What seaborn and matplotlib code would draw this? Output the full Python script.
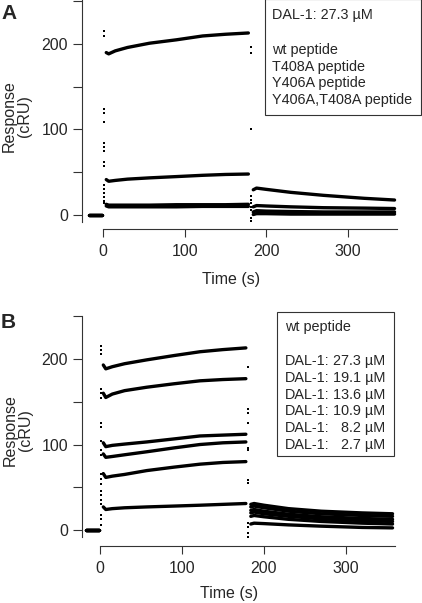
import pandas as pd
import seaborn as sns
import matplotlib.pyplot as plt
from matplotlib.patches import Rectangle

# time knots (s)
t_base = [-17, -1]
t_assoc = [4, 7, 15, 30, 57, 90, 122, 150, 178]
t_dissoc = [184, 188, 200, 230, 270, 320, 357]
t_on = 1.5
t_off = 181

# panel A: DAL-1 27.3 uM with peptide variants
peptides = ["wt peptide", "T408A peptide", "Y406A peptide", "Y406A,T408A peptide"]
a_base = [[0, 0], [0, 0], [0, 0], [0, 0]]
a_assoc = [
    [190, 188.5, 192, 196, 201, 205, 209.5, 211.5, 213],
    [41, 39, 40, 41.5, 43, 44.5, 46, 47, 47.5],
    [12, 11, 11, 11, 11, 11.5, 11.5, 11.5, 12],
    [10, 9, 9, 9, 9, 9, 9.5, 9.5, 9.5],
]
a_dissoc = [
    [29, 31, 29.5, 26, 22.5, 19, 17],
    [9, 10.5, 10, 9, 8, 7.5, 7],
    [3, 4.5, 4, 3.5, 3, 3, 3],
    [0, 1, 1, 0.5, 0.5, 0.5, 0.5],
]
a_spike_on = [[215, 209], [124, 119, 108, 84, 79, 74, 62, 57], [35, 30, 25, 20], [16, 13]]
a_spike_off = [[196, 190], [100], [22, 17, 14, 9], [5, -4, -8]]

# panel B: wt peptide, DAL-1 concentration series
concs = ["27.3", "19.1", "13.6", "10.9", "8.2", "2.7"]
b_base = [[0, 0]] * 6
b_assoc = [
    [193, 188.5, 191, 194.5, 199, 204, 208.5, 211, 213],
    [160, 155, 159, 163, 167, 171, 174.5, 176, 177],
    [102, 97.5, 99, 100.5, 103, 106.5, 110, 111, 112],
    [89, 85, 86, 88, 91.5, 96, 100, 102, 103],
    [66, 61.5, 63, 65, 69.5, 73.5, 77, 79, 80],
    [27, 24, 25, 26, 27, 28, 29, 30, 31],
]
b_dissoc = [
    [30, 31, 29, 25, 22, 20, 19],
    [27, 28, 26, 22, 19, 17, 16],
    [23, 24, 22, 18.5, 15.5, 13.5, 12.5],
    [20, 21, 19, 16, 13, 11, 10],
    [16, 17, 15.5, 12.5, 10, 8, 7],
    [7, 8, 7.5, 6, 4.5, 3, 2.5],
]
b_spike_on = [[215, 211, 206], [165, 160, 154], [125, 120, 104], [93, 88],
              [66, 60, 54, 46, 41], [35, 30, 18, 13, 6]]
b_spike_off = [[191], [142, 137], [125], [96, 93], [58, 55], [8, 3, -3, -8]]


def build(names, base, assoc, dissoc, spk_on, spk_off):
    rows, dots = [], []
    for i, name in enumerate(names):
        for part, tt, vv in [("base", t_base, base[i]), ("assoc", t_assoc, assoc[i]),
                             ("dissoc", t_dissoc, dissoc[i])]:
            for t, v in zip(tt, vv):
                rows.append({"trace": f"{name}-{part}", "time": t, "response": v})
        for v in spk_on[i]:
            dots.append({"time": t_on, "response": v})
        for v in spk_off[i]:
            dots.append({"time": t_off, "response": v})
    return pd.DataFrame(rows), pd.DataFrame(dots)


df_a, dots_a = build(peptides, a_base, a_assoc, a_dissoc, a_spike_on, a_spike_off)
df_b, dots_b = build(concs, b_base, b_assoc, b_dissoc, b_spike_on, b_spike_off)

sns.set_style("ticks")
plt.rcParams['font.family'] = ['Liberation Sans', 'DejaVu Sans']

W, H = 422, 603
fig = plt.figure(figsize=(W / 100, H / 100), dpi=100)
spine_c = "#333333"
box_fs = 10.4


def px_axes(left, right, top, bottom):
    return fig.add_axes([left / W, 1 - bottom / H, (right - left) / W, (bottom - top) / H])


def style(ax, xlim, ylim, ybounds, xlab_pos, ylab_pos):
    ax.set_xlim(*xlim)
    ax.set_ylim(*ylim)
    for s in ["top", "right"]:
        ax.spines[s].set_visible(False)
    ax.spines["left"].set_bounds(*ybounds)
    ax.spines["bottom"].set_bounds(0, 360)
    for s in ["left", "bottom"]:
        ax.spines[s].set_color(spine_c)
        ax.spines[s].set_linewidth(0.8)
    ax.set_xticks([0, 100, 200, 300])
    ax.set_yticks([0, 100, 200])
    ax.set_yticks([50, 150, 250], minor=True)
    ax.tick_params(axis="y", which="both", length=6.5, width=0.8, color=spine_c,
                   labelsize=11.5, pad=3.5)
    ax.tick_params(axis="x", which="both", length=6, width=0.8, color=spine_c,
                   labelsize=11.5, pad=4.5)
    ax.set_xlabel("Time (s)", fontsize=11.5)
    ax.set_ylabel("Response\n(cRU)", fontsize=11.5, linespacing=1.0)
    ax.xaxis.set_label_coords(*xlab_pos)
    ax.yaxis.set_label_coords(*ylab_pos)


ax_a = px_axes(82, 397, 0, 229)
sns.lineplot(data=df_a, x="time", y="response", units="trace", estimator=None,
             sort=False, color="black", lw=2.4, ax=ax_a)
sns.scatterplot(data=dots_a, x="time", y="response", color="black", marker="s",
                s=4, linewidth=0, ax=ax_a)
style(ax_a, (-25.7, 360), (-17, 251.7), (-9, 251.7), (0.474, -0.186), (-0.159, 0.493))

ax_b = px_axes(82, 395, 316, 546)
sns.lineplot(data=df_b, x="time", y="response", units="trace", estimator=None,
             sort=False, color="black", lw=2.4, ax=ax_b)
sns.scatterplot(data=dots_b, x="time", y="response", color="black", marker="s",
                s=4, linewidth=0, ax=ax_b)
style(ax_b, (-22, 360), (-18.7, 250.3), (-8, 250.3), (0.47, -0.174), (-0.156, 0.504))

# panel letters
fig.text(1 / W, 1 - 19 / H, "A", fontsize=15, fontweight="bold", va="baseline")
fig.text(1 / W, 1 - 328 / H, "B", fontsize=15, fontweight="bold", va="baseline")

# annotation boxes
fig.add_artist(Rectangle((265 / W, 1 - 115 / H), 156 / W, 116 / H, transform=fig.transFigure,
                         fill=False, edgecolor=spine_c, lw=0.8))
fig.text(272 / W, 1 - 15 / H, "DAL-1: 27.3 µM", fontsize=box_fs, va="center")
for i, name in enumerate(peptides):
    fig.text(272 / W, 1 - (50 + i * 16.7) / H, name, fontsize=box_fs, va="center")

fig.add_artist(Rectangle((277 / W, 1 - 456 / H), 117 / W, 144 / H, transform=fig.transFigure,
                         fill=False, edgecolor=spine_c, lw=0.8))
fig.text(285 / W, 1 - 327 / H, "wt peptide", fontsize=box_fs, va="center")
for i, c in enumerate(concs):
    y = 1 - (361 + i * 16.8) / H
    fig.text(285 / W, y, "DAL-1:", fontsize=box_fs, va="center")
    fig.text(385 / W, y, f"{c} µM", fontsize=box_fs, va="center", ha="right")

fig.savefig("out.png", dpi=100)
